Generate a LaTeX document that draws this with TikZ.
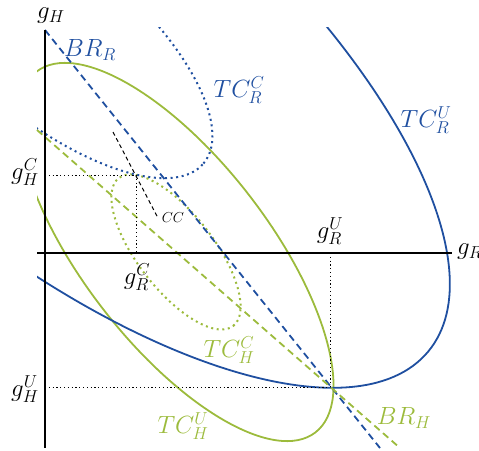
\documentclass[tikz,border=0pt]{standalone}
\usepackage{tikz}
\usetikzlibrary{positioning}
\definecolor{rblue}{HTML}{1F4FA0}
\definecolor{hgreen}{HTML}{9CBB3C}

\begin{document}
\begin{tikzpicture}[x=1pt, y=1pt, font=\fontsize{24}{28}\selectfont,
  ax/.style={line width=2.4pt, black},
  tcu/.style={line width=1.8pt},
  tcc/.style={line width=2pt, dash pattern=on 2pt off 3.6pt},
  br/.style={line width=1.8pt, dash pattern=on 7pt off 4.5pt},
  guide/.style={line width=0.9pt, dash pattern=on 1.2pt off 2.6pt, black},
  lab/.style={inner sep=1pt}
]
  \useasboundingbox (-45,-197) rectangle (434,253);

  % points of the plot
  \coordinate (O) at (0,0);
  \coordinate (ytop) at (0,223);
  \coordinate (ybot) at (0,-195);
  \coordinate (xleft) at (-8,0);
  \coordinate (xright) at (407,0);
  \coordinate (C) at (91,78);
  \coordinate (Cx) at (91,0);
  \coordinate (Cy) at (0,78);
  \coordinate (U) at (285,-134);
  \coordinate (Ux) at (285,0);
  \coordinate (Uy) at (0,-134);
  \coordinate (EH) at (131,1);
  \coordinate (ER) at (3,220);
  \coordinate (brr1) at (0,223);
  \coordinate (brr2) at (335,-195);
  \coordinate (brh1) at (-8,123);
  \coordinate (brh2) at (355,-195);
  \coordinate (cc1) at (68,121);
  \coordinate (cc2) at (113,35);

  % indifference curves
  \begin{scope}
    \clip (-8,-195) rectangle (434,225);
    \draw[tcu, hgreen, rotate around={-52.3:(EH)}] (EH) ellipse [x radius=228, y radius=92.6];
    \draw[tcc, hgreen, rotate around={-52.3:(EH)}] (EH) ellipse [x radius=93.5, y radius=38];
    \draw[tcu, rblue, rotate around={-40:(ER)}] (ER) ellipse [x radius=496, y radius=203];
    \draw[tcc, rblue, rotate around={-40:(ER)}] (ER) ellipse [x radius=203, y radius=83];
  \end{scope}

  % reaction lines
  \draw[br, rblue] (brr1) -- (brr2);
  \draw[br, hgreen] (brh1) -- (brh2);
  \draw[line width=1pt, dash pattern=on 4pt off 3pt] (cc1) -- (cc2);

  \foreach \a/\b in {Cy/C, C/Cx, Uy/U, Ux/U}
    \draw[guide] (\a) -- (\b);

  % axes
  \draw[ax] (ytop) -- (ybot);
  \draw[ax] (xleft) -- (xright);

  \node[lab] (lgh) at (6,237) {$g_H$};
  \node[lab, anchor=west] (lgr) at (411,1) {$g_R$};
  \node[lab] (lghc) at (-20,81) {$g_H^C$};
  \node[lab] (lghu) at (-20,-136) {$g_H^U$};
  \node[lab] (lgrc) at (92,-24) {$g_R^C$};
  \node[lab] (lgru) at (285,22) {$g_R^U$};
  \node[lab, font=\fontsize{15}{18}\selectfont] (lcc) at (128,35) {$CC$};

  \node[lab, rblue] (lbrr) at (45,203) {$BR_R$};
  \node[lab, rblue] (ltcrc) at (194,163) {$TC_R^C$};
  \node[lab, rblue] (ltcru) at (381,133) {$TC_R^U$};
  \node[lab, hgreen] (ltchc) at (184,-97) {$TC_H^C$};
  \node[lab, hgreen] (ltchu) at (138,-173) {$TC_H^U$};
  \node[lab, hgreen] (lbrh) at (359,-165) {$BR_H$};
\end{tikzpicture}
\end{document}
